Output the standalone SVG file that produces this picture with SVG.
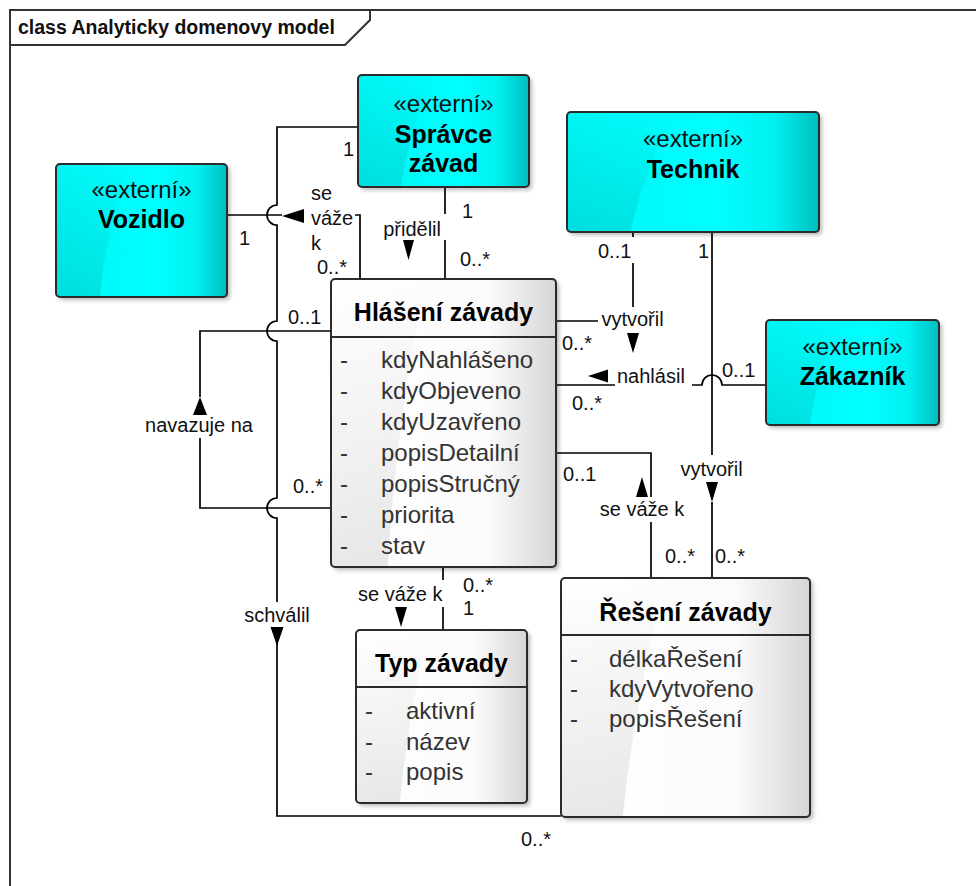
<svg xmlns="http://www.w3.org/2000/svg" width="976" height="886" viewBox="0 0 976 886">
  <defs>
    <linearGradient id="gCyan" x1="0" y1="0" x2="1" y2="0">
      <stop offset="0" stop-color="#00F4F4"/>
      <stop offset="0.6" stop-color="#00FFFF"/>
      <stop offset="0.82" stop-color="#00F0F0"/>
      <stop offset="1" stop-color="#00BEBE"/>
    </linearGradient>
    <linearGradient id="gClass" x1="0" y1="0" x2="1" y2="0">
      <stop offset="0" stop-color="#FFFFFF"/>
      <stop offset="0.7" stop-color="#FBFBFB"/>
      <stop offset="1" stop-color="#D6D6D6"/>
    </linearGradient>
    <linearGradient id="gGloss" x1="0" y1="0" x2="0" y2="1">
      <stop offset="0" stop-color="#000" stop-opacity="0"/>
      <stop offset="1" stop-color="#000" stop-opacity="0.09"/>
    </linearGradient>
    <filter id="shadow" x="-10%" y="-10%" width="125%" height="125%">
      <feDropShadow dx="3" dy="3" stdDeviation="2" flood-color="#000" flood-opacity="0.28"/>
    </filter>
  </defs>
  <style>
    .frame { fill: none; stroke: #333; stroke-width: 2; }
    .box { stroke: none; filter: url(#shadow); }
    .ext { fill: url(#gCyan); }
    .cls { fill: url(#gClass); }
    .edge { fill: none; stroke: #2b2b2b; stroke-width: 2; }
    .gloss { fill: url(#gGloss); stroke: none; }
    .sep { stroke: #2b2b2b; stroke-width: 2; }
    .conn path { fill: none; stroke: #000; stroke-width: 1.7; }
    .conn polygon { fill: #000; stroke: none; }
    text { font-family: "Liberation Sans", Arial, sans-serif; }
    .hdr { font-size: 19.5px; font-weight: bold; fill: #111; }
    .stereo { font-size: 24px; fill: #111; text-anchor: middle; }
    .name { font-size: 25px; font-weight: bold; fill: #000; text-anchor: middle; }
    .attr { font-size: 24px; fill: #333; }
    .lbl { font-size: 20px; fill: #111; }
    .mid { text-anchor: middle; }
    .end { text-anchor: end; }
  </style>

  <rect width="976" height="886" fill="#FFFFFF"/>

  <!-- diagram frame with its name tab -->
  <g id="frame">
    <path class="frame" d="M10,886 V10 H976"/>
    <path class="frame" d="M10,45 H345 L370,20 V10"/>
    <text class="hdr" x="18" y="34">class Analyticky domenovy model</text>
  </g>

  <!-- associations -->
  <g id="connectors" class="conn">
    <!-- Vozidlo - Hlaseni: se vaze k -->
    <path d="M227,215 H282"/>
    <path d="M355,215 H360 V279"/>
    <polygon points="282,216 304,209 304,223"/>
    <!-- Spravce - Hlaseni: pridelil -->
    <path d="M445,187 V214"/>
    <path d="M445,240 V279"/>
    <polygon points="403,240 414,240 408.5,260"/>
    <!-- Spravce - Reseni: schvalil (hops over crossing lines) -->
    <path d="M358,127 H277 V205 A10,10 0 0 0 277,225 V321 A10,10 0 0 0 277,341 V498 A10,10 0 0 0 277,518 V602"/>
    <path d="M277,627 V816 H561"/>
    <polygon points="270.5,627 283.5,627 277,646"/>
    <!-- Hlaseni - Hlaseni: navazuje na -->
    <path d="M331,331 H200 V397"/>
    <path d="M200,438 V508 H331"/>
    <polygon points="193,415 207,415 200,397"/>
    <!-- Hlaseni - Technik: vytvoril -->
    <path d="M556,321 H598"/>
    <path d="M633,307 V263"/>
    <path d="M633,237 V232"/>
    <polygon points="627,333 639,333 633,353"/>
    <!-- Technik - Reseni: vytvoril -->
    <path d="M712,232 V455"/>
    <path d="M712,502 V577"/>
    <polygon points="706,482 718,482 712,502"/>
    <!-- Hlaseni - Zakaznik: nahlasil (hop over Technik line) -->
    <path d="M556,385 H615"/>
    <path d="M692,385 H702 A10,10 0 0 1 722,385 H766"/>
    <polygon points="588,376 608,369.5 608,382.5"/>
    <!-- Hlaseni - Reseni: se vaze k -->
    <path d="M556,453 H651 V497"/>
    <path d="M651,522 V577"/>
    <polygon points="636,497 648,497 642,477"/>
    <!-- Hlaseni - Typ: se vaze k -->
    <path d="M443,567 V580"/>
    <path d="M443,607 V630"/>
    <polygon points="395,607 407,607 401,627"/>

    <!-- association names -->
    <text class="lbl" x="311" y="200">se</text>
    <text class="lbl" x="311" y="225">váže</text>
    <text class="lbl" x="311" y="250">k</text>
    <text class="lbl end" x="441" y="236">přidělil</text>
    <text class="lbl mid" x="277" y="622">schválil</text>
    <text class="lbl mid" x="199" y="432">navazuje na</text>
    <text class="lbl mid" x="632.5" y="326">vytvořil</text>
    <text class="lbl mid" x="711.5" y="476">vytvořil</text>
    <text class="lbl" x="617" y="383">nahlásil</text>
    <text class="lbl mid" x="642" y="516">se váže k</text>
    <text class="lbl" x="358" y="601">se váže k</text>

    <!-- multiplicities -->
    <text class="lbl" x="239" y="245">1</text>
    <text class="lbl" x="317" y="274">0..*</text>
    <text class="lbl" x="343" y="156">1</text>
    <text class="lbl" x="462" y="218">1</text>
    <text class="lbl" x="460" y="266">0..*</text>
    <text class="lbl" x="288" y="324">0..1</text>
    <text class="lbl" x="293" y="493">0..*</text>
    <text class="lbl" x="562" y="350">0..*</text>
    <text class="lbl" x="598" y="258">0..1</text>
    <text class="lbl" x="698" y="258">1</text>
    <text class="lbl" x="572" y="410">0..*</text>
    <text class="lbl" x="722" y="377">0..1</text>
    <text class="lbl" x="715" y="563">0..*</text>
    <text class="lbl" x="563" y="481">0..1</text>
    <text class="lbl" x="665" y="563">0..*</text>
    <text class="lbl" x="463" y="592">0..*</text>
    <text class="lbl" x="463" y="615">1</text>
    <text class="lbl" x="521" y="846">0..*</text>
  </g>

  <!-- external actors -->
  <g id="spravce">
    <rect class="box ext" x="358" y="75" width="171" height="112" rx="4"/>
    <path class="gloss" d="M359,76 H430 Q406,150 401,186 H359 Z"/>
    <rect class="edge" x="358" y="75" width="171" height="112" rx="4"/>
    <text class="stereo" x="443.5" y="112">«externí»</text>
    <text class="name" x="443.5" y="143">Správce</text>
    <text class="name" x="443.5" y="172">závad</text>
  </g>

  <g id="technik">
    <rect class="box ext" x="567" y="112" width="252" height="120" rx="4"/>
    <path class="gloss" d="M568,113 H672 Q638,190 631,231 H568 Z"/>
    <rect class="edge" x="567" y="112" width="252" height="120" rx="4"/>
    <text class="stereo" x="693" y="147">«externí»</text>
    <text class="name" x="693" y="178">Technik</text>
  </g>

  <g id="vozidlo">
    <rect class="box ext" x="56" y="164" width="171" height="133" rx="4"/>
    <path class="gloss" d="M57,165 H128 Q104,245 100,296 H57 Z"/>
    <rect class="edge" x="56" y="164" width="171" height="133" rx="4"/>
    <text class="stereo" x="141.5" y="198">«externí»</text>
    <text class="name" x="141.5" y="228">Vozidlo</text>
  </g>

  <g id="zakaznik">
    <rect class="box ext" x="766" y="320" width="173" height="105" rx="4"/>
    <path class="gloss" d="M767,321 H838 Q815,385 810,424 H767 Z"/>
    <rect class="edge" x="766" y="320" width="173" height="105" rx="4"/>
    <text class="stereo" x="852.5" y="355">«externí»</text>
    <text class="name" x="852.5" y="385">Zákazník</text>
  </g>

  <!-- domain classes -->
  <g id="hlaseni">
    <rect class="box cls" x="331" y="279" width="225" height="288" rx="4"/>
    <path class="gloss" d="M332,280 H425 Q394,440 388,566 H332 Z"/>
    <rect class="edge" x="331" y="279" width="225" height="288" rx="4"/>
    <line class="sep" x1="331" y1="337" x2="556" y2="337"/>
    <text class="name" x="443.5" y="321">Hlášení závady</text>
    <text class="attr" x="340" y="368">-</text><text class="attr" x="381" y="368">kdyNahlášeno</text>
    <text class="attr" x="340" y="399">-</text><text class="attr" x="381" y="399">kdyObjeveno</text>
    <text class="attr" x="340" y="430">-</text><text class="attr" x="381" y="430">kdyUzavřeno</text>
    <text class="attr" x="340" y="461">-</text><text class="attr" x="381" y="461">popisDetailní</text>
    <text class="attr" x="340" y="492">-</text><text class="attr" x="381" y="492">popisStručný</text>
    <text class="attr" x="340" y="523">-</text><text class="attr" x="381" y="523">priorita</text>
    <text class="attr" x="340" y="554">-</text><text class="attr" x="381" y="554">stav</text>
  </g>

  <g id="typ">
    <rect class="box cls" x="356" y="630" width="171" height="173" rx="4"/>
    <path class="gloss" d="M357,631 H428 Q406,730 400,802 H357 Z"/>
    <rect class="edge" x="356" y="630" width="171" height="173" rx="4"/>
    <line class="sep" x1="356" y1="687" x2="527" y2="687"/>
    <text class="name" x="441.5" y="672">Typ závady</text>
    <text class="attr" x="365" y="719">-</text><text class="attr" x="406" y="719">aktivní</text>
    <text class="attr" x="365" y="750">-</text><text class="attr" x="406" y="750">název</text>
    <text class="attr" x="365" y="780">-</text><text class="attr" x="406" y="780">popis</text>
  </g>

  <g id="reseni">
    <rect class="box cls" x="561" y="578" width="249" height="239" rx="4"/>
    <path class="gloss" d="M562,579 H665 Q632,720 623,816 H562 Z"/>
    <rect class="edge" x="561" y="578" width="249" height="239" rx="4"/>
    <line class="sep" x1="561" y1="635" x2="810" y2="635"/>
    <text class="name" x="685.5" y="621">Řešení závady</text>
    <text class="attr" x="570" y="667">-</text><text class="attr" x="609" y="667">délkaŘešení</text>
    <text class="attr" x="570" y="697">-</text><text class="attr" x="609" y="697">kdyVytvořeno</text>
    <text class="attr" x="570" y="727">-</text><text class="attr" x="609" y="727">popisŘešení</text>
  </g>
</svg>
